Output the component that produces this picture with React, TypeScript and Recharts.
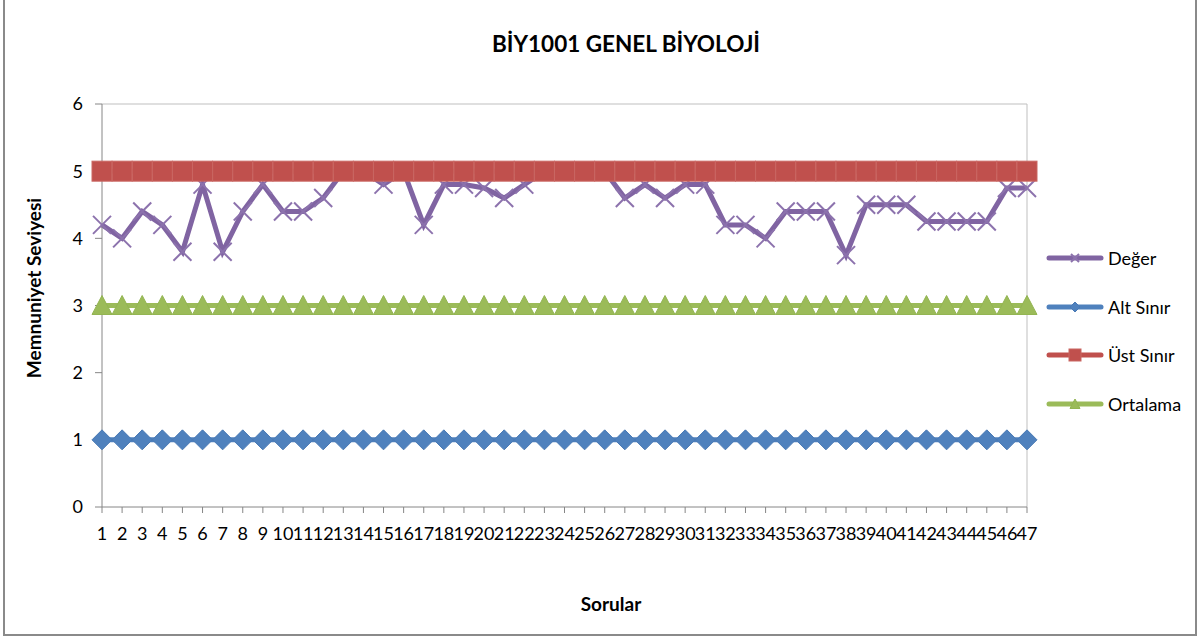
import React from "react";
import {
  LineChart,
  Line,
  XAxis,
  YAxis,
  Legend,
  ReferenceLine,
} from "recharts";

// question numbers on the x axis
const sorular = [
  "1", "2", "3", "4", "5", "6", "7", "8", "9", "10",
  "11", "12", "13", "14", "15", "16", "17", "18", "19", "20",
  "21", "22", "23", "24", "25", "26", "27", "28", "29", "30",
  "31", "32", "33", "34", "35", "36", "37", "38", "39", "40",
  "41", "42", "43", "44", "45", "46", "47",
];

// satisfaction per question
const deger = [
  4.2, 4.0, 4.4, 4.2, 3.8, 4.8, 3.8, 4.4, 4.8, 4.4,
  4.4, 4.6, 5, 5, 4.8, 5, 4.2, 4.8, 4.8, 4.75,
  4.6, 4.8, 5, 5, 5, 5, 4.6, 4.8, 4.6, 4.8,
  4.8, 4.2, 4.2, 4.0, 4.4, 4.4, 4.4, 3.75, 4.5, 4.5,
  4.5, 4.25, 4.25, 4.25, 4.25, 4.75, 4.75,
];

const altSinir = [
  1, 1, 1, 1, 1, 1, 1, 1, 1, 1,
  1, 1, 1, 1, 1, 1, 1, 1, 1, 1,
  1, 1, 1, 1, 1, 1, 1, 1, 1, 1,
  1, 1, 1, 1, 1, 1, 1, 1, 1, 1,
  1, 1, 1, 1, 1, 1, 1,
];

const ustSinir = [
  5, 5, 5, 5, 5, 5, 5, 5, 5, 5,
  5, 5, 5, 5, 5, 5, 5, 5, 5, 5,
  5, 5, 5, 5, 5, 5, 5, 5, 5, 5,
  5, 5, 5, 5, 5, 5, 5, 5, 5, 5,
  5, 5, 5, 5, 5, 5, 5,
];

const ortalama = [
  3, 3, 3, 3, 3, 3, 3, 3, 3, 3,
  3, 3, 3, 3, 3, 3, 3, 3, 3, 3,
  3, 3, 3, 3, 3, 3, 3, 3, 3, 3,
  3, 3, 3, 3, 3, 3, 3, 3, 3, 3,
  3, 3, 3, 3, 3, 3, 3,
];

const yTicks = [0, 1, 2, 3, 4, 5, 6];

const data = sorular.map((s, i) => ({
  soru: s,
  deger: deger[i],
  alt: altSinir[i],
  ust: ustSinir[i],
  ort: ortalama[i],
}));

const FONT = "Lato, 'Open Sans', sans-serif";
const PURPLE = "#8064A2";
const BLUE = "#4F81BD";
const RED = "#C0504D";
const GREEN = "#9BBB59";

// marker shapes, s = half size
const XMark = ({ cx, cy, s = 9 }: any) => (
  <g>
    <line x1={cx - s} y1={cy - s} x2={cx + s} y2={cy + s} stroke="#8C72AD" strokeWidth={2} />
    <line x1={cx - s} y1={cy + s} x2={cx + s} y2={cy - s} stroke="#8C72AD" strokeWidth={2} />
  </g>
);

const Diamond = ({ cx, cy, s = 10 }: any) => (
  <polygon
    points={`${cx},${cy - s} ${cx + s},${cy} ${cx},${cy + s} ${cx - s},${cy}`}
    fill={BLUE}
    stroke="#4A7AB5"
    strokeWidth={1}
  />
);

const Square = ({ cx, cy, s = 10 }: any) => (
  <rect x={cx - s} y={cy - s} width={s * 2} height={s * 2} fill={RED} stroke="#C96662" strokeWidth={1} />
);

const Triangle = ({ cx, cy, s = 10 }: any) => (
  <polygon
    points={`${cx},${cy - s} ${cx + s},${cy + s * 0.9} ${cx - s},${cy + s * 0.9}`}
    fill={GREEN}
    stroke="#93B552"
    strokeWidth={1}
  />
);

const legendItems = [
  { name: "Değer", color: PURPLE, Mark: XMark, s: 4 },
  { name: "Alt Sınır", color: BLUE, Mark: Diamond, s: 5 },
  { name: "Üst Sınır", color: RED, Mark: Square, s: 6 },
  { name: "Ortalama", color: GREEN, Mark: Triangle, s: 5 },
];

const renderLegend = () => (
  <div style={{ fontFamily: FONT, fontSize: 18, color: "#000" }}>
    {legendItems.map((it) => (
      <div key={it.name} style={{ height: 48.5, display: "flex", alignItems: "center" }}>
        <svg width={58} height={20} style={{ marginRight: 4 }}>
          <line x1={3} y1={10} x2={55} y2={10} stroke={it.color} strokeWidth={5} strokeLinecap="round" />
          <it.Mark cx={29} cy={10} s={it.s} />
        </svg>
        <span>{it.name}</span>
      </div>
    ))}
  </div>
);

const tickStyle = { fontFamily: FONT, fontSize: 18, fill: "#000" };

export default function App() {
  return (
    <div style={{ position: "absolute", left: 0, top: 0, width: 1200, height: 640, background: "#fff" }}>
      {/* chart frame */}
      <div
        style={{
          position: "absolute",
          left: 3,
          top: -10,
          width: 1194,
          height: 646,
          border: "2px solid #8a8a8a",
          boxSizing: "border-box",
        }}
      />
      <div
        style={{
          position: "absolute",
          left: 0,
          width: 1252,
          top: 30,
          textAlign: "center",
          fontFamily: FONT,
          fontWeight: 700,
          fontSize: 22.5,
          color: "#000",
        }}
      >
        BİY1001 GENEL BİYOLOJİ
      </div>
      <LineChart
        width={1200}
        height={640}
        data={data}
        margin={{ top: 104, right: 173, left: 22, bottom: 93 }}
        style={{ position: "absolute", left: 0, top: 0 }}
      >
        <XAxis
          dataKey="soru"
          interval={0}
          height={40}
          tick={tickStyle}
          tickSize={6}
          tickMargin={14}
          stroke="#868686"
          label={{
            content: () => (
              <text x={611} y={611} textAnchor="middle" fontFamily={FONT} fontSize={19} fontWeight={700} fill="#000">
                Sorular
              </text>
            ),
          }}
        />
        <YAxis
          domain={[0, 6]}
          ticks={yTicks}
          width={80}
          tick={tickStyle}
          tickSize={7}
          tickMargin={12}
          stroke="#868686"
          label={{
            content: () => (
              <text
                x={36}
                y={288}
                transform="rotate(-90 36 288)"
                textAnchor="middle"
                dominantBaseline="middle"
                fontFamily={FONT}
                fontSize={19}
                fontWeight={700}
                fill="#000"
              >
                Memnuniyet Seviyesi
              </text>
            ),
          }}
        />
        <ReferenceLine y={6} stroke="#BFBFBF" />
        <ReferenceLine x="47" stroke="#BFBFBF" />
        <Legend
          layout="vertical"
          align="center"
          verticalAlign="middle"
          content={renderLegend}
          wrapperStyle={{ left: 1046, top: 234, width: 154 }}
        />
        <Line
          name="Değer"
          dataKey="deger"
          stroke={PURPLE}
          strokeWidth={5}
          isAnimationActive={false}
          dot={(p: any) => <XMark key={p.index} cx={p.cx} cy={p.cy} />}
          activeDot={false}
        />
        <Line
          name="Alt Sınır"
          dataKey="alt"
          stroke={BLUE}
          strokeWidth={5}
          isAnimationActive={false}
          dot={(p: any) => <Diamond key={p.index} cx={p.cx} cy={p.cy} />}
          activeDot={false}
        />
        <Line
          name="Üst Sınır"
          dataKey="ust"
          stroke={RED}
          strokeWidth={5}
          isAnimationActive={false}
          dot={(p: any) => <Square key={p.index} cx={p.cx} cy={p.cy} />}
          activeDot={false}
        />
        <Line
          name="Ortalama"
          dataKey="ort"
          stroke={GREEN}
          strokeWidth={5}
          isAnimationActive={false}
          dot={(p: any) => <Triangle key={p.index} cx={p.cx} cy={p.cy} />}
          activeDot={false}
        />
      </LineChart>
    </div>
  );
}
